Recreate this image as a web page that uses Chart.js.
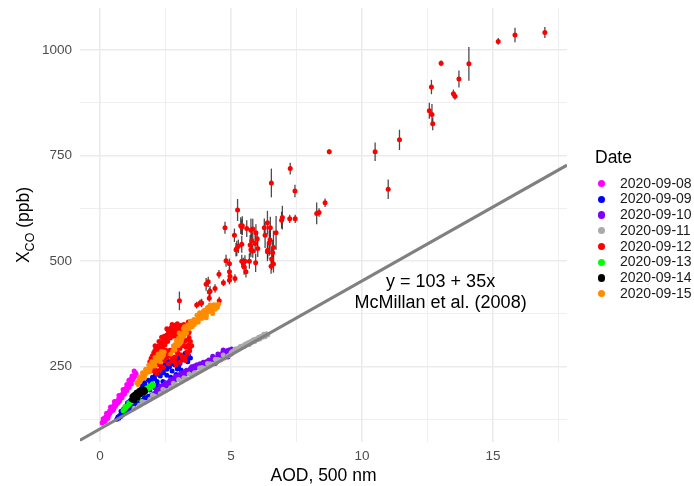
<!DOCTYPE html>
<html>
<head>
<meta charset="utf-8">
<title>XCO vs AOD</title>
<script src="https://cdn.jsdelivr.net/npm/chart.js@4/dist/chart.umd.min.js"></script>
<style>
  html, body { margin: 0; padding: 0; background: #ffffff; }
  #wrap { position: relative; width: 694px; height: 486px; overflow: hidden; }
  #chart { position: absolute; left: 0; top: 0; }
  #legend { position: absolute; left: 595px; top: 147px; font-family: 'Liberation Sans', Arial, sans-serif; color: #000; }
  #legend .title { font-size: 17.5px; line-height: 20px; height: 20px; margin-bottom: 8.6px; }
  #legend .row { position: relative; height: 15.75px; line-height: 15.75px; font-size: 14px; padding-left: 25px; white-space: nowrap; color: #1a1a1a; }
  #legend .dot { position: absolute; left: 3px; top: 50%; width: 7.4px; height: 7.4px; margin-top: -3.7px; border-radius: 50%; }
</style>
</head>
<body>
<div id="wrap">
  <canvas id="chart" width="694" height="486"></canvas>
  <div id="legend"></div>
</div>
<script>
// ---- Legend categories ----
const dates = ['2020-09-08', '2020-09-09', '2020-09-10', '2020-09-11',
               '2020-09-12', '2020-09-13', '2020-09-14', '2020-09-15'];
const dateColors = ['#FF00FF', '#0000FF', '#7F00FF', '#AAAAAA',
                    '#FF0000', '#00FF00', '#000000', '#FF8C00'];

// ---- Observations: AOD at 500 nm and XCO (ppb) per day ----
const aod0908 = [0.08,0.11,0.13,0.16,0.18,0.21,0.24,0.26,0.29,0.32,0.35,0.37,0.40,0.43,0.46,0.49,0.52,0.55,0.58,0.61,0.63,0.66,0.69,0.72,0.75,0.78,0.81,0.84,0.87,0.90,0.93,0.96,0.99,1.02,1.05,1.08,1.11,1.14,1.17,1.20,1.24,1.28,1.31,1.35,1.22,1.10,0.95,0.70,0.50,0.30,
                 0.20,0.28,0.36,0.44,0.52,0.60,0.68,0.76,0.84,0.92,1.00,1.08,1.16,1.24,1.32,0.12,0.25,0.40,0.55,0.72,0.88,1.02,1.18,1.30,1.38];
const xco0908 = [117,121,124,120,128,131,127,135,139,134,142,146,143,150,154,149,157,161,156,164,168,163,171,175,169,178,183,177,186,190,185,194,199,193,202,207,201,210,215,209,219,224,230,236,228,218,196,166,147,128,
                 122,129,138,146,152,159,166,174,181,189,197,204,213,221,227,127,140,155,168,182,196,208,221,240,233];

const aod0909 = [0.64,0.68,0.72,0.75,0.78,0.82,0.85,0.88,0.92,0.95,1.00,1.05,1.10,1.15,1.20,1.25,1.30,1.38,1.45,1.52,1.60,1.68,1.76,1.85,1.95,2.05,2.15,2.25,2.35,2.45,
                 1.05,1.18,1.30,1.42,1.55,1.62,1.70,1.78,1.85,1.92,2.00,2.05,2.12,2.18,2.22,2.30,2.35,2.42,2.48,2.55,2.60,2.65,2.72,2.78,2.85,2.92,3.00,3.05,3.12,3.20,3.30,3.38,3.45,2.70,2.90,2.40,2.10,1.90,3.10,2.95,
                 1.00,1.12,1.25,1.35,1.48,1.60,1.72,1.95,2.08,2.25,2.38,2.52,2.65,2.80,2.95,3.15,3.35,3.25,2.55,2.75,3.00,2.20,1.65,1.40,0.90,0.80];
const xco0909 = [126,131,128,135,132,139,136,143,140,148,145,152,150,157,155,162,160,166,165,170,170,175,176,180,182,186,190,193,196,200,
                 165,172,180,188,196,205,212,200,218,210,225,205,232,215,240,228,248,236,255,244,262,250,258,266,254,262,270,258,266,272,268,276,271,225,232,215,200,195,242,245,
                 158,168,176,186,192,200,206,216,222,232,242,250,262,258,266,275,262,282,230,240,250,206,184,175,150,145];

const aod0910 = [1.95,2.05,2.12,2.20,2.28,2.36,2.44,2.52,2.60,2.68,2.76,2.84,2.92,3.00,3.08,3.16,3.24,3.32,3.40,3.48,3.56,3.64,3.72,
                 2.30,2.50,2.70,2.90,3.10,3.30,3.50,3.70,
                 3.82,3.94,4.05,4.15,4.26,4.33,4.39,4.45,4.52,4.58,4.64,4.71,4.76,4.84,4.88,4.96,5.00,4.92,4.80,4.68,4.60,4.20,
                 2.15,2.40,2.65,2.85,3.05,3.25,3.45,3.60,4.30,4.50,4.70,4.85,5.02,4.40,4.10,3.98];
const xco0910 = [176,180,186,190,193,196,200,204,207,210,214,217,221,224,227,230,233,236,239,241,244,247,250,
                 204,212,220,228,236,242,250,255,
                 257,261,262,266,267,270,265,272,275,273,278,281,276,283,273,285,280,290,287,284,268,260,
                 196,206,216,224,232,238,246,252,275,280,290,288,292,258,256,254];

const aod0911 = [1.30,1.50,1.70,1.90,2.10,2.30,2.50,2.70,2.90,3.10,3.30,3.50,3.70,3.85,4.00,4.15,4.30,4.45,4.60,4.75,4.90,5.00,5.10,5.20,5.30,5.40,5.50,5.60,5.70,5.80,5.90,6.00,6.10,6.20,6.30,6.40,
                 5.05,5.25,5.45,5.65,5.85,6.05,6.25,4.50,4.20,3.90,3.60,3.20,
                 3.00,3.40,3.80,4.10,4.40,4.70,5.15,5.35,5.55,5.75,5.95,6.15,6.35,2.00,2.40,2.80,1.60];
const xco0911 = [152,159,166,173,180,187,194,201,208,215,222,229,236,241,246,251,256,261,266,271,276,283,286,290,292,296,298,302,303,308,310,314,316,320,321,325,
                 286,293,300,307,314,320,327,267,257,248,236,224,
                 220,233,247,258,268,278,292,298,304,310,316,322,328,183,197,211,168];

const aod0912 = [1.90,1.95,2.00,2.05,2.10,2.15,2.20,2.25,2.30,2.35,2.40,2.45,2.50,2.55,2.60,2.65,2.70,2.75,2.80,2.85,2.90,2.95,3.00,2.60,2.70,2.85,2.45,2.25,2.10,
                 3.05,3.12,3.18,3.05,2.99,2.86,2.74,2.61,2.42,2.29,2.16,2.30,2.45,2.55,2.67,2.80,2.92,3.05,3.20,3.31,3.37,3.31,3.24,3.37,3.44,3.40,3.30,3.20,3.37,3.44,3.15,3.05,2.90,2.48,2.35,2.20,2.10,2.02,2.92,2.80,2.67,2.55,
                 2.00,2.08,2.18,2.28,2.38,2.48,2.58,2.68,2.78,2.88,2.98,3.08,3.15,3.22,3.28,3.35,3.42,3.25,3.10,2.95,2.85,2.70,2.62,2.50,2.40,2.32,2.22,2.12,2.05,1.98,2.35,2.55,2.75,2.95,3.10,3.40,3.45,3.50];
const xco0912 = [262,270,276,283,289,286,295,300,296,305,312,308,318,324,320,330,334,328,338,342,336,345,340,335,342,348,322,310,300,
                 344,332,313,297,281,273,265,257,249,242,234,255,265,272,289,289,293,293,300,313,329,285,273,301,297,318,340,350,356,348,270,261,255,280,268,255,245,250,321,328,332,325,
                 265,272,280,288,296,302,310,318,322,330,332,336,325,310,296,280,288,265,278,283,262,275,283,290,282,275,262,258,240,246,320,340,350,352,348,332,310,300];

// Sparse high-load measurements of 2020-09-12, with their uncertainty (ppb)
const aod0912e = [3.03,3.69,3.82,3.88,4.05,4.13,4.17,4.20,4.39,4.17,4.54,4.55,4.71,4.94,5.15,4.96,4.81,4.94,4.94,
                  4.77,5.13,5.22,5.28,5.41,5.41,5.60,5.41,5.50,5.57,5.47,5.25,5.37,5.43,5.76,5.83,5.95,6.00,5.92,5.79,5.73,5.76,6.02,5.83,5.70,5.94,5.53,5.19,
                  6.27,6.39,6.50,6.30,6.49,6.46,6.39,6.59,6.62,6.55,6.40,6.53,6.62,6.72,6.54,6.93,6.96,7.24,7.45,7.26,7.44,
                  8.27,8.36,8.59,8.75,10.50,11.00,11.43,12.57,12.67,12.70,12.65,13.02,13.49,13.55,13.70,14.08,15.20,15.84,16.98];
const xco0912e = [406,396,401,401,445,451,427,429,435,412,469,406,449,455,459,464,501,494,475,
                  579,561,530,535,540,581,577,500,486,475,496,621,584,584,573,576,567,553,542,548,538,527,530,524,500,496,500,527,
                  579,591,579,561,550,543,522,520,532,505,526,488,493,567,685,597,603,600,600,719,666,
                  613,615,638,759,759,670,787,856,847,825,912,968,896,890,931,967,1020,1035,1041];
const err0912e = [22,8,8,10,15,12,10,12,10,8,10,10,8,10,10,12,14,12,10,
                  14,16,18,16,20,18,20,15,18,14,12,26,20,22,28,24,20,18,22,20,24,18,20,16,18,22,14,16,
                  22,28,26,30,34,30,22,30,40,26,20,18,20,40,34,20,28,10,10,14,15,
                  26,10,10,6,22,23,24,19,25,15,17,7,10,8,20,40,8,17,13];

const aod0913 = [0.88,0.92,0.96,1.00,1.04,1.08,1.12,1.16,1.20,1.25,1.30,1.35,1.40,1.45,1.50,1.55,1.60,1.65,1.70,1.75,1.80,1.85,1.90,1.95,2.00,2.04,1.62,1.78,1.48,
                 0.95,1.10,1.28,1.42,1.58,1.72,1.88,2.00];
const xco0913 = [146,149,151,154,157,159,162,164,167,170,172,175,177,180,182,185,187,190,192,194,196,198,200,202,204,206,195,200,176,
                 156,165,175,183,190,198,205,210];

const aod0914 = [1.20,1.24,1.26,1.30,1.33,1.36,1.40,1.42,1.46,1.50,1.53,1.56,1.60,1.63,1.67,1.70,1.74,1.28,1.38,1.48,1.58,
                 1.22,1.35,1.45,1.55,1.65,1.72,1.32,1.45];
const xco0914 = [172,176,170,180,175,183,178,186,182,188,184,191,187,193,190,196,192,184,190,194,197,
                 180,186,190,195,198,190,170,176];

const aod0915 = [1.40,1.45,1.48,1.53,1.56,1.60,1.64,1.68,1.72,1.76,1.80,1.84,1.88,1.92,1.96,2.00,2.04,2.08,2.12,2.16,2.20,2.25,2.30,2.36,2.42,1.70,1.90,2.10,2.30,
                 2.78,2.84,2.88,2.92,2.96,3.00,3.05,3.08,3.12,3.16,3.20,2.80,3.18,3.25,
                 3.28,3.35,3.44,3.50,3.56,3.62,3.69,3.75,3.82,3.88,3.94,4.00,4.06,4.13,4.20,4.26,4.33,4.39,4.45,4.52,4.20,4.00,3.88,3.60,3.40,4.40,
                 1.50,1.62,1.74,1.86,1.98,2.10,2.22,2.34,2.45,2.70,2.86,2.98,3.10,3.02,3.22,3.30,
                 3.45,3.58,3.70,3.80,3.95,4.10,4.25,4.35,4.48,3.52,3.75,4.05,4.30];
const xco0915 = [212,208,218,216,224,222,230,228,236,234,242,240,248,246,254,252,260,258,266,264,270,268,275,272,278,224,238,252,262,
                 288,296,304,313,306,318,305,325,316,330,322,300,340,336,
                 344,349,347,352,356,360,356,365,368,364,372,376,372,380,384,380,388,392,396,398,396,384,376,350,340,386,
                 226,236,244,254,262,272,280,286,285,280,290,300,310,330,345,330,
                 358,362,372,378,382,390,392,397,390,345,356,366,376];

// ---- Reference relation (McMillan et al., 2008) and axis limits ----
const LINE_INTERCEPT = 103;
const LINE_SLOPE = 35;
const X_MIN = -0.765, X_MAX = 17.825;
const Y_MIN = 72, Y_MAX = 1099;
const NOTE_X = 13, NOTE_Y = 425;
const noteLines = ['y = ' + LINE_INTERCEPT + ' + ' + LINE_SLOPE + 'x', 'McMillan et al. (2008)'];

const FONT = "'Liberation Sans', Arial, Helvetica, sans-serif";
Chart.defaults.font.family = FONT;

function points(xs, ys) {
  return xs.map((x, i) => ({ x: x, y: ys[i] }));
}

const seriesX = [aod0908, aod0909, aod0910, aod0911, aod0912.concat(aod0912e), aod0913, aod0914, aod0915];
const seriesY = [xco0908, xco0909, xco0910, xco0911, xco0912.concat(xco0912e), xco0913, xco0914, xco0915];
const redErrors = aod0912.map(() => 0).concat(err0912e);

const scatterSets = dates.map((d, i) => ({
  type: 'scatter',
  label: d,
  data: points(seriesX[i], seriesY[i]),
  backgroundColor: dateColors[i],
  borderWidth: 0,
  pointRadius: 2.5,
  pointHoverRadius: 2.5,
  order: 20 - i,
  errors: i === 4 ? redErrors : null
}));

const refLine = {
  type: 'line',
  label: 'McMillan',
  data: [X_MIN, X_MAX].map(x => ({ x: x, y: LINE_INTERCEPT + LINE_SLOPE * x })),
  borderColor: '#808080',
  borderWidth: 3.2,
  pointRadius: 0,
  fill: false,
  order: 0
};

// Vertical uncertainty bars, drawn underneath the points
const errorBars = {
  id: 'errorBars',
  beforeDatasetsDraw(chart) {
    const { ctx, chartArea, scales } = chart;
    ctx.save();
    ctx.beginPath();
    ctx.rect(chartArea.left, chartArea.top, chartArea.right - chartArea.left, chartArea.bottom - chartArea.top);
    ctx.clip();
    ctx.strokeStyle = 'rgba(45,45,45,0.85)';
    ctx.lineWidth = 1.3;
    chart.data.datasets.forEach(ds => {
      if (!ds.errors) return;
      ds.data.forEach((p, i) => {
        const e = ds.errors[i];
        if (!e) return;
        const px = scales.x.getPixelForValue(p.x);
        ctx.beginPath();
        ctx.moveTo(px, scales.y.getPixelForValue(p.y - e));
        ctx.lineTo(px, scales.y.getPixelForValue(p.y + e));
        ctx.stroke();
      });
    });
    ctx.restore();
  }
};

// Text label next to the reference line, and the y-axis title with subscript
const annotations = {
  id: 'annotations',
  afterDraw(chart) {
    const { ctx, chartArea, scales } = chart;
    ctx.save();
    ctx.fillStyle = '#000000';
    ctx.font = '18px ' + FONT;
    ctx.textAlign = 'center';
    ctx.textBaseline = 'middle';
    const cx = scales.x.getPixelForValue(NOTE_X);
    const cy = scales.y.getPixelForValue(NOTE_Y);
    ctx.fillText(noteLines[0], cx, cy - 10.4);
    ctx.fillText(noteLines[1], cx, cy + 10.4);
    ctx.restore();

    ctx.save();
    const big = '17.5px ' + FONT, small = '12.5px ' + FONT;
    ctx.font = big;
    const wX = ctx.measureText('X').width;
    const wRest = ctx.measureText(' (ppb)').width;
    ctx.font = small;
    const wSub = ctx.measureText('CO').width;
    const total = wX + wSub + wRest;
    ctx.translate(29, (chartArea.top + chartArea.bottom) / 2);
    ctx.rotate(-Math.PI / 2);
    ctx.fillStyle = '#000000';
    ctx.textAlign = 'left';
    ctx.textBaseline = 'alphabetic';
    const x0 = -total / 2;
    ctx.font = big;
    ctx.fillText('X', x0, 0);
    ctx.font = small;
    ctx.fillText('CO', x0 + wX, 4.5);
    ctx.font = big;
    ctx.fillText(' (ppb)', x0 + wX + wSub, 0);
    ctx.restore();
  }
};

const gridColor = '#EBEBEB';

new Chart(document.getElementById('chart'), {
  data: { datasets: scatterSets.concat([refLine]) },
  options: {
    responsive: false,
    animation: false,
    events: [],
    layout: { padding: { top: 8, right: 127, bottom: 0, left: 0 } },
    plugins: {
      legend: { display: false },
      tooltip: { enabled: false }
    },
    scales: {
      x: {
        type: 'linear',
        min: X_MIN,
        max: X_MAX,
        border: { display: false },
        grid: {
          color: gridColor,
          drawTicks: false,
          lineWidth: c => (c.tick && Math.abs(c.tick.value % 5) < 1e-9 ? 1.6 : 0.8)
        },
        ticks: {
          stepSize: 2.5,
          includeBounds: false,
          autoSkip: false,
          maxRotation: 0,
          padding: 6.6,
          color: '#4D4D4D',
          font: { size: 13.5 },
          callback: v => (Math.abs(v % 5) < 1e-9 ? String(v) : '')
        },
        title: {
          display: true,
          text: 'AOD, 500 nm',
          color: '#000000',
          font: { size: 17.5, lineHeight: 1.2 },
          padding: { top: 0, bottom: -1 }
        },
        afterFit(scale) {
          scale.height = 44;
          scale.paddingLeft = 0; scale.paddingRight = 0;
        }
      },
      y: {
        type: 'linear',
        min: Y_MIN,
        max: Y_MAX,
        border: { display: false },
        grid: {
          color: gridColor,
          drawTicks: false,
          lineWidth: c => (c.tick && c.tick.value % 250 === 0 ? 1.6 : 0.8)
        },
        ticks: {
          stepSize: 125,
          includeBounds: false,
          autoSkip: false,
          padding: 8,
          color: '#4D4D4D',
          font: { size: 13.5 },
          callback: v => (v % 250 === 0 ? String(v) : '')
        },
        afterFit(scale) {
          scale.width = 80;
          scale.paddingTop = 0; scale.paddingBottom = 0;
        }
      }
    }
  },
  plugins: [errorBars, annotations]
});

// Legend for the observation days
const legend = document.getElementById('legend');
const title = document.createElement('div');
title.className = 'title';
title.textContent = 'Date';
legend.appendChild(title);
dates.forEach((d, i) => {
  const row = document.createElement('div');
  row.className = 'row';
  const dot = document.createElement('span');
  dot.className = 'dot';
  dot.style.background = dateColors[i];
  row.appendChild(dot);
  row.appendChild(document.createTextNode(d));
  legend.appendChild(row);
});
</script>
</body>
</html>
